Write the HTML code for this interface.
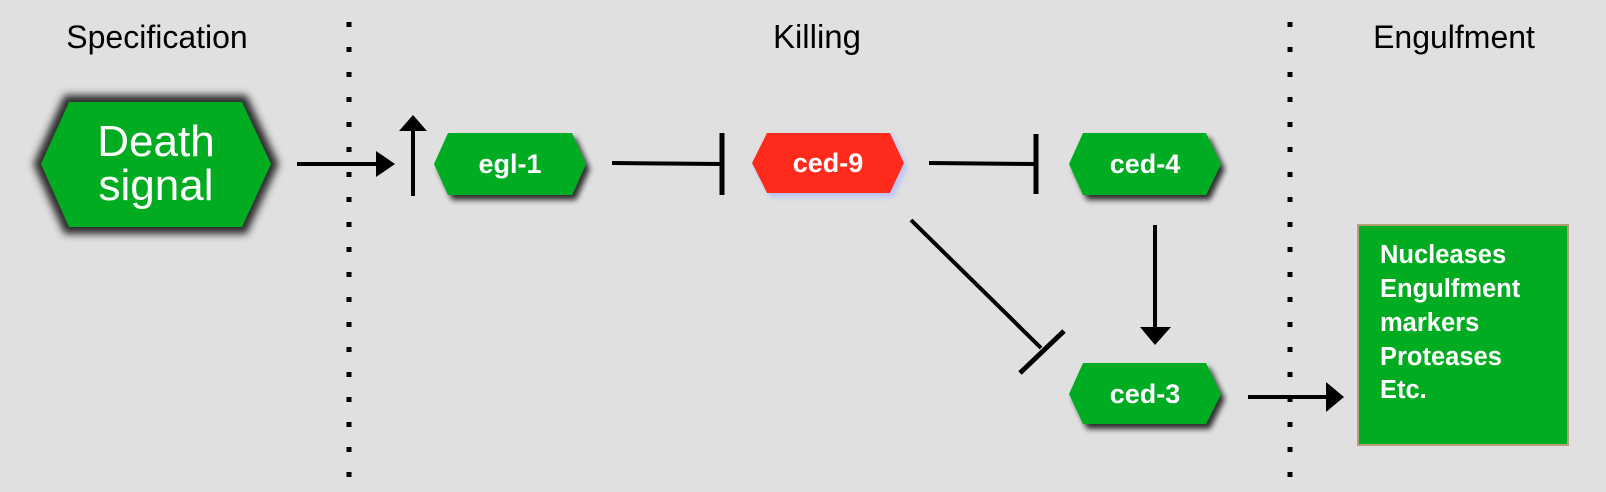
<!DOCTYPE html>
<html><head><meta charset="utf-8"><style>
html,body{margin:0;padding:0;background:#e0e0e0;}
svg{display:block;}
text{font-family:"Liberation Sans",Arial,sans-serif;}
</style></head><body>
<svg width="1606" height="492" viewBox="0 0 1606 492" xmlns="http://www.w3.org/2000/svg">
<defs>
<filter id="sh" x="-20%" y="-20%" width="150%" height="160%"><feGaussianBlur in="SourceAlpha" stdDeviation="3"/><feOffset dx="4" dy="5"/><feComponentTransfer><feFuncA type="linear" slope="0.8"/></feComponentTransfer><feMerge><feMergeNode/><feMergeNode in="SourceGraphic"/></feMerge></filter>
<filter id="glow" x="-20%" y="-20%" width="140%" height="140%"><feGaussianBlur stdDeviation="4"/></filter>
<filter id="blue" x="-20%" y="-20%" width="150%" height="160%"><feGaussianBlur in="SourceAlpha" stdDeviation="3"/><feOffset dx="3" dy="4"/><feColorMatrix type="matrix" values="0 0 0 0 0.4  0 0 0 0 0.5  0 0 0 0 1  0 0 0 0.8 0"/><feMerge><feMergeNode/><feMergeNode in="SourceGraphic"/></feMerge></filter>
</defs>
<rect width="1606" height="492" fill="#e0e0e0"/>
<text x="157" y="48" font-size="32" text-anchor="middle" fill="#000">Specification</text>
<text x="817" y="48" font-size="33" text-anchor="middle" fill="#000">Killing</text>
<text x="1454" y="48" font-size="32" text-anchor="middle" fill="#000">Engulfment</text>
<line x1="349" y1="22" x2="349" y2="481" stroke="#000" stroke-width="5" stroke-dasharray="5 20"/>
<line x1="1290" y1="22" x2="1290" y2="481" stroke="#000" stroke-width="5" stroke-dasharray="5 20"/>
<!-- Death signal -->
<polygon points="41,164 69,102 242,102 271,164 242,227 69,227" fill="#2a2a2a" filter="url(#glow)" stroke="#2a2a2a" stroke-width="14"/>
<polygon points="41,164 69,102 242,102 271,164 242,227 69,227" fill="#02ac20"/>
<text x="156" y="156" font-size="44" fill="#fff" text-anchor="middle">Death</text>
<text x="156" y="200" font-size="44" fill="#fff" text-anchor="middle">signal</text>
<!-- arrows -->
<line x1="297" y1="164" x2="380" y2="164" stroke="#000" stroke-width="4"/>
<path d="M376,151 L395,164 L376,177z" fill="#000"/>
<line x1="413" y1="196" x2="413" y2="128" stroke="#000" stroke-width="4"/>
<path d="M399,131 L413,115 L427,131z" fill="#000"/>
<!-- egl-1 -->
<polygon points="434,164 448,133 572,133 586,164 572,195 448,195" fill="#02ac20" filter="url(#sh)"/>
<text x="510" y="173" font-size="27" font-weight="bold" fill="#fff" text-anchor="middle">egl-1</text>
<line x1="612" y1="163" x2="722" y2="164" stroke="#000" stroke-width="4"/>
<line x1="722" y1="133" x2="722" y2="195" stroke="#000" stroke-width="5"/>
<!-- ced-9 -->
<polygon points="752,163 767,133 890,133 904,163 890,193 767,193" fill="#fe2a1c" filter="url(#blue)"/>
<text x="828" y="172" font-size="27" font-weight="bold" fill="#fff" text-anchor="middle">ced-9</text>
<line x1="929" y1="163" x2="1036" y2="164" stroke="#000" stroke-width="4"/>
<line x1="1036" y1="134" x2="1036" y2="194" stroke="#000" stroke-width="5"/>
<!-- ced-4 -->
<polygon points="1069,164 1083,133 1206,133 1221,164 1206,195 1083,195" fill="#02ac20" filter="url(#sh)"/>
<text x="1145" y="173" font-size="27" font-weight="bold" fill="#fff" text-anchor="middle">ced-4</text>
<line x1="1155" y1="225" x2="1155" y2="330" stroke="#000" stroke-width="4"/>
<path d="M1140,327 L1155,345 L1171,327z" fill="#000"/>
<!-- diagonal inhibit -->
<line x1="911" y1="220" x2="1041" y2="348" stroke="#000" stroke-width="4"/>
<line x1="1020" y1="373" x2="1064" y2="331" stroke="#000" stroke-width="5"/>
<!-- ced-3 -->
<polygon points="1069,394 1083,363 1206,363 1221,394 1206,424 1083,424" fill="#02ac20" filter="url(#sh)"/>
<text x="1145" y="403" font-size="27" font-weight="bold" fill="#fff" text-anchor="middle">ced-3</text>
<line x1="1248" y1="397" x2="1330" y2="397" stroke="#000" stroke-width="4"/>
<path d="M1326,382 L1344,397 L1326,412z" fill="#000"/>
<!-- box -->
<rect x="1358" y="225" width="210" height="220" fill="#02ac20" stroke="#b2a176" stroke-width="2"/>
<g font-size="25.5" font-weight="bold" fill="#fff">
<text x="1380" y="263">Nucleases</text>
<text x="1380" y="297">Engulfment</text>
<text x="1380" y="331">markers</text>
<text x="1380" y="365">Proteases</text>
<text x="1380" y="398">Etc.</text>
</g>
</svg>
</body></html>
